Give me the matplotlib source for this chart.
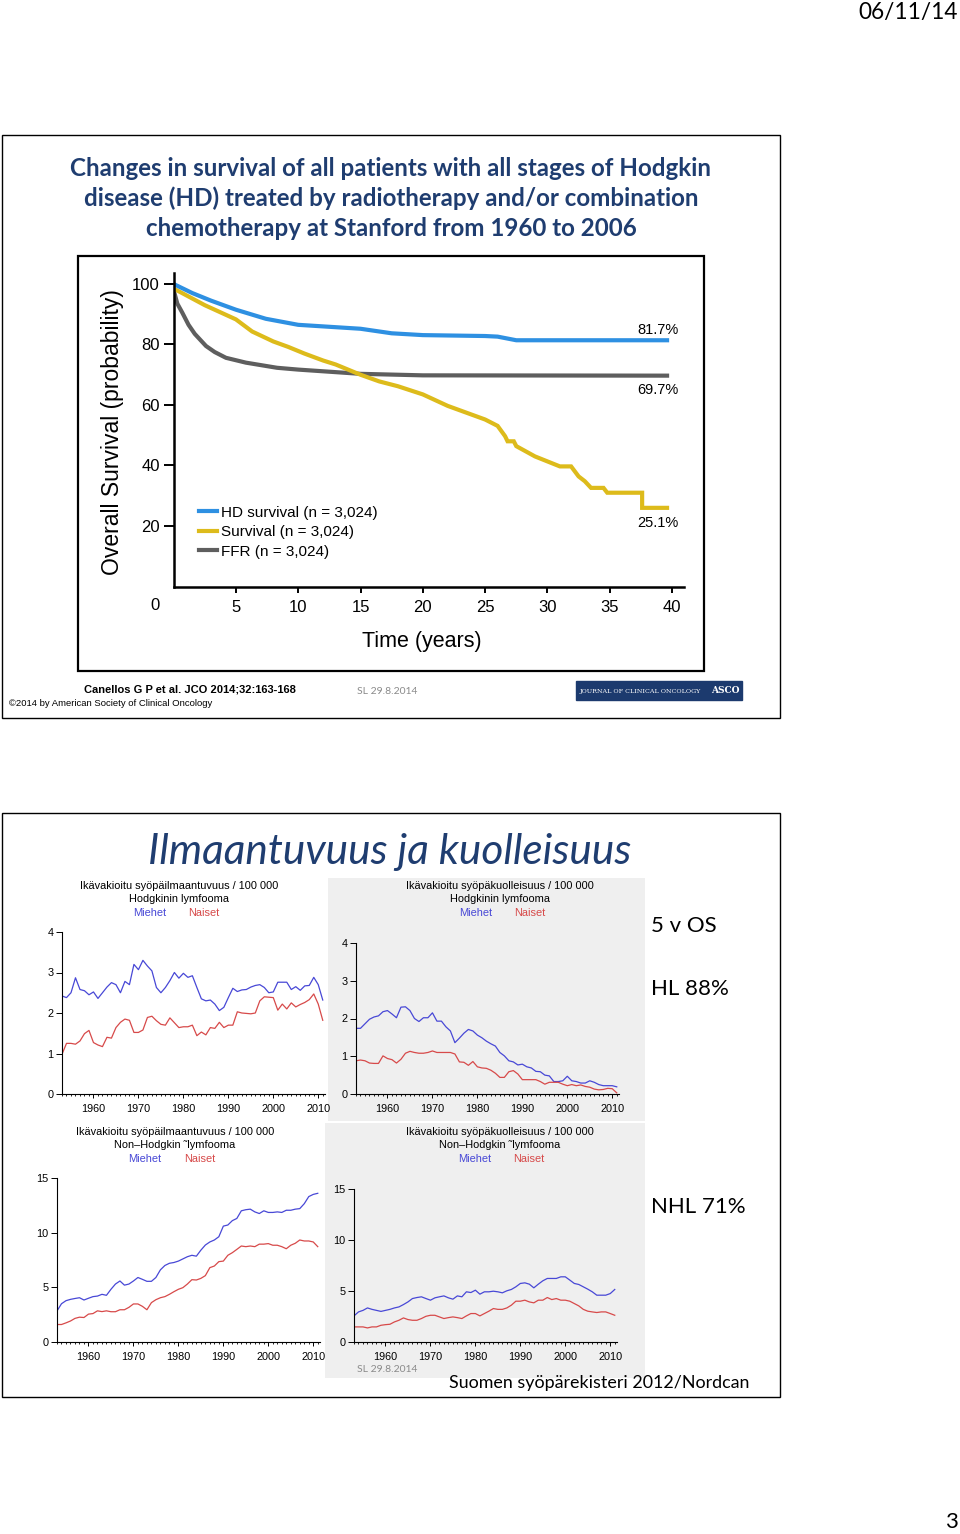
import numpy as np
import matplotlib
matplotlib.use("Agg")
import matplotlib.pyplot as plt
from matplotlib import font_manager
from matplotlib.patches import Rectangle

W, H = 960, 1534

# --- slide 1: Stanford survival curves (time in years, %)
hd_t = [0, 1.5, 3, 5, 7.4, 10, 15, 17.5, 20, 25, 26, 27.5, 39.6]
hd_v = [100, 97, 94.5, 91.5, 88.5, 86.5, 85.2, 83.7, 83.1, 82.8, 82.6, 81.4, 81.4]

os_t = [0, 2.5, 5, 6.3, 8, 9.2, 10.5, 12, 13, 15, 16.5, 18, 20, 22, 25, 26, 26.6, 26.8, 27.3, 27.5,
        29, 31, 31.9, 32.5, 33, 33.5, 34.5, 34.8, 37.6, 37.6, 39.6]
os_v = [98.5, 93, 88.3, 84.3, 81, 79.2, 77, 74.7, 73.4, 70, 67.8, 66.2, 63.5, 59.7, 55.2, 53.1, 49.7, 48, 48, 46.4,
        43, 39.7, 39.7, 36.4, 34.8, 32.6, 32.6, 31, 31, 26, 26]

ffr_t = [0, 0.3, 0.7, 1.2, 1.7, 2.6, 3.3, 4.2, 5.8, 8.3, 10, 12.5, 15, 20, 39.6]
ffr_v = [98, 93.5, 90.5, 86.5, 83.5, 79.5, 77.5, 75.6, 74, 72.3, 71.7, 71, 70.3, 69.8, 69.7]

surv_labels = ["HD survival (n = 3,024)", "Survival (n = 3,024)", "FFR (n = 3,024)"]
end_labels = ["81.7%", "69.7%", "25.1%"]

# --- slide 2: Finnish cancer registry, per 100 000
years = np.arange(1953, 2012)

hl_inc_m = [2.42, 2.38, 2.50, 2.87, 2.58, 2.55, 2.45, 2.52, 2.36, 2.50,
            2.64, 2.75, 2.70, 2.50, 2.78, 2.70, 3.20, 3.07, 3.30, 3.16,
            3.04, 2.63, 2.50, 2.63, 2.80, 3.00, 2.86, 2.98, 2.88, 2.92,
            2.63, 2.35, 2.30, 2.32, 2.22, 2.06, 2.14, 2.38, 2.61, 2.53,
            2.57, 2.58, 2.64, 2.68, 2.70, 2.63, 2.50, 2.52, 2.76, 2.76,
            2.76, 2.58, 2.65, 2.56, 2.67, 2.68, 2.88, 2.70, 2.32]
hl_inc_f = [0.98, 1.25, 1.25, 1.23, 1.31, 1.49, 1.57, 1.27, 1.21, 1.17,
            1.40, 1.38, 1.64, 1.77, 1.85, 1.82, 1.52, 1.52, 1.58, 1.89,
            1.92, 1.81, 1.72, 1.70, 1.88, 1.76, 1.64, 1.66, 1.66, 1.70,
            1.44, 1.53, 1.46, 1.64, 1.62, 1.77, 1.64, 1.70, 1.70, 2.03,
            2.00, 1.99, 1.98, 2.00, 2.30, 2.40, 2.39, 2.38, 2.07, 2.22,
            2.10, 2.25, 2.15, 2.21, 2.26, 2.33, 2.47, 2.22, 1.82]

hl_mort_m = [1.74, 1.74, 1.86, 1.98, 2.04, 2.07, 2.18, 2.21, 2.12, 2.02,
             2.30, 2.31, 2.21, 2.00, 1.92, 2.02, 2.02, 2.15, 1.93, 1.93,
             1.78, 1.67, 1.36, 1.48, 1.61, 1.71, 1.67, 1.56, 1.49, 1.40,
             1.33, 1.27, 1.10, 1.01, 0.88, 0.85, 0.77, 0.79, 0.72, 0.69,
             0.60, 0.59, 0.50, 0.48, 0.33, 0.33, 0.35, 0.47, 0.35, 0.33,
             0.29, 0.29, 0.35, 0.31, 0.25, 0.22, 0.22, 0.22, 0.19]
hl_mort_f = [0.88, 0.90, 0.88, 0.82, 0.81, 0.81, 1.01, 0.94, 0.91, 0.82,
             0.92, 1.08, 1.13, 1.10, 1.08, 1.08, 1.10, 1.14, 1.10, 1.10,
             1.10, 1.10, 1.06, 0.85, 0.84, 0.76, 0.86, 0.72, 0.69, 0.68,
             0.63, 0.55, 0.44, 0.44, 0.59, 0.62, 0.53, 0.38, 0.38, 0.38,
             0.38, 0.33, 0.26, 0.31, 0.31, 0.31, 0.26, 0.22, 0.25, 0.22,
             0.24, 0.20, 0.18, 0.13, 0.11, 0.12, 0.15, 0.14, 0.03]

nhl_inc_m = [2.84, 3.50, 3.78, 3.90, 3.98, 4.05, 3.84, 4.00, 4.15, 4.20,
             4.36, 4.27, 4.82, 5.30, 5.58, 5.20, 5.30, 5.58, 5.90, 5.73,
             5.55, 5.55, 5.90, 6.60, 7.00, 7.20, 7.27, 7.40, 7.60, 7.80,
             7.93, 7.85, 8.40, 8.87, 9.15, 9.33, 9.63, 10.6, 10.7, 11.1,
             11.3, 12.0, 12.1, 12.15, 11.9, 11.75, 12.0, 11.85, 11.85, 11.9,
             11.85, 12.05, 12.05, 12.15, 12.2, 12.65, 13.3, 13.5, 13.6]
nhl_inc_f = [1.60, 1.60, 1.75, 1.92, 2.16, 2.27, 2.24, 2.55, 2.60, 2.85,
             2.78, 2.85, 2.77, 2.77, 2.95, 2.95, 3.17, 3.48, 3.48, 3.26,
             2.95, 3.60, 3.87, 4.05, 4.15, 4.36, 4.60, 4.82, 4.97, 5.30,
             5.70, 5.67, 5.82, 6.07, 6.80, 6.95, 7.35, 7.40, 7.93, 8.17,
             8.47, 8.78, 8.72, 8.78, 8.72, 8.95, 8.95, 9.00, 8.85, 8.85,
             8.72, 8.53, 8.85, 9.03, 9.33, 9.24, 9.24, 9.15, 8.72]

nhl_mort_m = [2.56, 2.95, 3.10, 3.34, 3.20, 3.10, 3.00, 3.10, 3.20, 3.34,
              3.44, 3.67, 3.93, 4.26, 4.36, 4.43, 4.26, 4.10, 4.33, 4.43,
              4.52, 4.33, 4.20, 4.52, 4.43, 4.92, 4.85, 5.08, 4.69, 4.92,
              4.92, 4.98, 4.92, 4.82, 5.02, 5.15, 5.41, 5.74, 5.80, 5.67,
              5.31, 5.67, 6.00, 6.23, 6.23, 6.23, 6.39, 6.39, 6.07, 5.74,
              5.64, 5.41, 5.18, 4.92, 4.59, 4.59, 4.59, 4.75, 5.15]
nhl_mort_f = [1.48, 1.48, 1.48, 1.38, 1.48, 1.48, 1.64, 1.70, 1.74, 1.97,
              2.13, 2.36, 2.20, 2.13, 2.13, 2.30, 2.52, 2.62, 2.62, 2.46,
              2.30, 2.39, 2.46, 2.39, 2.30, 2.56, 2.79, 2.79, 2.56, 2.79,
              3.02, 3.28, 3.20, 3.20, 3.34, 3.61, 4.00, 4.00, 4.10, 3.93,
              3.84, 4.10, 4.10, 4.36, 4.16, 4.26, 4.10, 4.10, 4.00, 3.77,
              3.54, 3.20, 3.02, 2.95, 2.89, 2.95, 2.95, 2.79, 2.62]

# fonts
names = {f.name for f in font_manager.fontManager.ttflist}
narrow = "Liberation Sans Narrow" if "Liberation Sans Narrow" in names else "Liberation Sans"
is_narrow = narrow == "Liberation Sans Narrow"
slide_font = "Lato"
arial = "Liberation Sans"
navy = "#1F3D70"


def box(x0, y0, x1, y1):
    return [x0 / W, 1 - y1 / H, (x1 - x0) / W, (y1 - y0) / H]


fig = plt.figure(figsize=(W / 100, H / 100), dpi=100)
bg = fig.add_axes([0, 0, 1, 1])
bg.set_xlim(0, W)
bg.set_ylim(H, 0)
bg.axis("off")

# page header / footer
bg.text(958, 12, "06/11/14", fontsize=16.3, family=slide_font, ha="right", va="center")
bg.text(958, 1522, "3", fontsize=16, family=slide_font, ha="right", va="center")

# ---------------- slide 1
bg.add_patch(Rectangle((2, 135), 778, 583, fill=False, lw=1, ec="black"))
bg.add_patch(Rectangle((78, 256), 626, 415, fill=False, lw=1.6, ec="black"))
title_lines = ["Changes in survival of all patients with all stages of Hodgkin",
               "disease (HD) treated by radiotherapy and/or combination",
               "chemotherapy at Stanford from 1960 to 2006"]
for i, line in enumerate(title_lines):
    bg.text(391, 168 + i * 30.5, line, fontsize=17.4, family=slide_font, weight="bold",
            color=navy, ha="center", va="center")

bg.text(190, 689, "Canellos G P et al. JCO 2014;32:163-168", fontsize=8, family=arial,
        weight="bold", ha="center", va="center")
bg.text(9, 704, "\u00a92014 by American Society of Clinical Oncology", fontsize=6.8,
        family=arial, ha="left", va="center")
bg.text(357, 692, "SL 29.8.2014", fontsize=7.5, family=slide_font, color="#8a8a8a",
        ha="left", va="center")
bg.add_patch(Rectangle((576, 681), 166, 19, color="#1C3A6E"))
bg.text(580, 691, "JOURNAL OF CLINICAL ONCOLOGY", fontsize=4.6, family="DejaVu Serif",
        color="white", ha="left", va="center")
bg.text(711, 690.5, "ASCO", fontsize=6.5, family="DejaVu Serif", weight="bold",
        color="white", ha="left", va="center")

# survival axes: x 0..41 -> px 173.6..684.5, y 0..103.5 -> px 586.5..273.4
ax = fig.add_axes(box(173.6, 273.4, 684.5, 586.5))
ax.set_facecolor("none")
l_ffr, = ax.plot(ffr_t, ffr_v, color="#5E5E5E", lw=3, solid_joinstyle="miter")
l_os, = ax.plot(os_t, os_v, color="#DDBB1B", lw=3, solid_joinstyle="miter")
l_hd, = ax.plot(hd_t, hd_v, color="#2E90E2", lw=3, solid_joinstyle="miter")
ax.set_xlim(0, 41)
ax.set_ylim(0, 103.5)
for s in ["top", "right"]:
    ax.spines[s].set_visible(False)
for s in ["left", "bottom"]:
    ax.spines[s].set_linewidth(1.8)
tick_fs = 14 if is_narrow else 12
ax.set_yticks([20, 40, 60, 80, 100])
ax.set_xticks([5, 10, 15, 20, 25, 30, 35, 40])
ax.tick_params(axis="y", length=7, width=1.4, pad=3, labelsize=tick_fs)
ax.tick_params(axis="x", length=4, width=1.4, pad=6, labelsize=tick_fs)
for lab in ax.get_xticklabels() + ax.get_yticklabels():
    lab.set_family(narrow)
ax.text(-18.5 / 12.46, -18.5 / 3.025, "0", fontsize=tick_fs, family=narrow,
        ha="center", va="center", clip_on=False)
ax.set_ylabel("Overall Survival (probability)", fontsize=20 if is_narrow else 16.5,
              family=narrow)
ax.yaxis.set_label_coords((112 - 173.6) / 511, (586.5 - 432) / 313.1)
ax.set_xlabel("Time (years)", fontsize=19 if is_narrow else 15.5, family=narrow)
ax.xaxis.set_label_coords((422 - 173.6) / 511, (586.5 - 641) / 313.1)
ax.xaxis.label.set_va("center")
ax.yaxis.label.set_va("center")
ax.legend([l_hd, l_os, l_ffr], surv_labels, loc="upper left", bbox_to_anchor=(0.035, 0.282),
          frameon=False, handlelength=1.15, handletextpad=0.3, labelspacing=0.36,
          borderpad=0, prop={"family": narrow, "size": 13 if is_narrow else 11})
for y_lab, txt in zip([330, 390, 523], end_labels):
    ax.text(40.5, (586.5 - y_lab) / 3.025, txt, fontsize=12.5 if is_narrow else 10.5,
            family=narrow, ha="right", va="center")

# ---------------- slide 2
bg.add_patch(Rectangle((2, 813), 778, 584, fill=False, lw=1, ec="black"))
bg.add_patch(Rectangle((328, 878), 317, 243, color="#EFEFEF", lw=0))
bg.add_patch(Rectangle((325, 1123), 320, 255, color="#EFEFEF", lw=0))
bg.text(390, 852, "Ilmaantuvuus ja kuolleisuus", fontsize=30.5, family=slide_font,
        style="italic", color=navy, ha="center", va="center")

bg.text(651, 926, "5 v OS", fontsize=16, family=slide_font, ha="left", va="center")
bg.text(651, 989, "HL 88%", fontsize=16, family=slide_font, ha="left", va="center")
bg.text(651, 1207, "NHL 71%", fontsize=16, family=slide_font, ha="left", va="center")
bg.text(749, 1383, "Suomen sy\u00f6p\u00e4rekisteri 2012/Nordcan", fontsize=12.9,
        family=slide_font, ha="right", va="center")
bg.text(357, 1370, "SL 29.8.2014", fontsize=7.5, family=slide_font, color="#8a8a8a",
        ha="left", va="center")

blue = "#4848D6"
red = "#D74A4A"


def panel(px, ymax, yticks, men, women, head, sub, cx, ty, mx, nx):
    a = fig.add_axes(box(*px))
    a.set_facecolor("none")
    a.plot(years, men, color=blue, lw=0.9)
    a.plot(years, women, color=red, lw=0.9)
    a.set_xlim(1953, 2011.5)
    a.set_ylim(0, ymax)
    for s in ["top", "right"]:
        a.spines[s].set_visible(False)
    for s in ["left", "bottom"]:
        a.spines[s].set_linewidth(0.8)
    a.set_yticks(yticks)
    a.set_xticks([1960, 1970, 1980, 1990, 2000, 2010])
    a.set_xticks(years, minor=True)
    a.tick_params(axis="y", length=4, width=0.7, pad=2, labelsize=7.8)
    a.tick_params(axis="x", which="major", length=3, width=0.7, pad=4, labelsize=7.8)
    a.tick_params(axis="x", which="minor", length=1.5, width=0.6)
    for lab in a.get_xticklabels() + a.get_yticklabels():
        lab.set_family(arial)
    bg.text(cx, ty, head, fontsize=7.9, family=arial, ha="center", va="center")
    bg.text(cx, ty + 13.5, sub, fontsize=7.9, family=arial, ha="center", va="center")
    bg.text(mx, ty + 27, "Miehet", fontsize=7.9, family=arial, color=blue, ha="center", va="center")
    bg.text(nx, ty + 27, "Naiset", fontsize=7.9, family=arial, color=red, ha="center", va="center")
    return a


inc = "Ik\u00e4vakioitu sy\u00f6p\u00e4ilmaantuvuus / 100 000"
mort = "Ik\u00e4vakioitu sy\u00f6p\u00e4kuolleisuus / 100 000"
hl = "Hodgkinin lymfooma"
nhl = "Non\u2013Hodgkin \u02dclymfooma"

panel((62, 932, 325, 1094), 4, [0, 1, 2, 3, 4], hl_inc_m, hl_inc_f, inc, hl, 179, 886, 150, 204)
panel((356, 943, 619, 1094), 4, [0, 1, 2, 3, 4], hl_mort_m, hl_mort_f, mort, hl, 500, 886, 476, 530)
panel((57, 1178, 320, 1342), 15, [0, 5, 10, 15], nhl_inc_m, nhl_inc_f, inc, nhl, 175, 1132, 145, 200)
panel((354, 1189, 617, 1342), 15, [0, 5, 10, 15], nhl_mort_m, nhl_mort_f, mort, nhl, 500, 1132, 475, 529)

fig.savefig("out.png", dpi=100)
